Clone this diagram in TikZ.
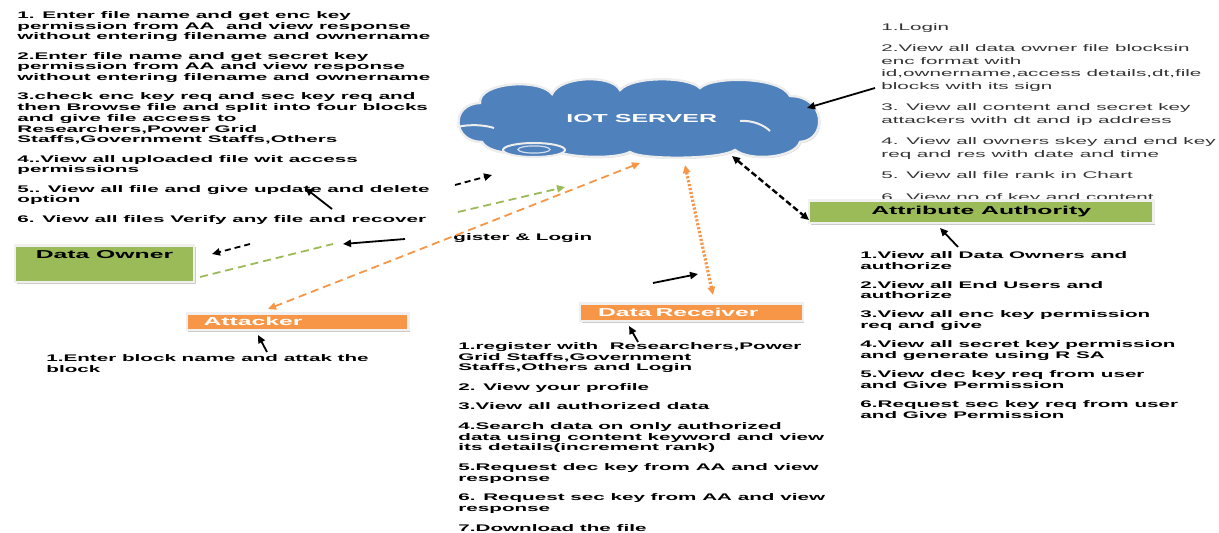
\documentclass[tikz,border=0pt]{standalone}
\usepackage{fontspec}
\newfontfamily\widefont[FakeStretch=2.15]{Liberation Sans}
\usetikzlibrary{arrows.meta,shadows}
\definecolor{ownergreen}{HTML}{9BBB59}
\definecolor{attackorange}{HTML}{F79646}
\definecolor{cloudblue}{HTML}{4F81BD}

\begin{document}
\begin{tikzpicture}[
  x=0.5pt, y=-0.5pt,
  >={Triangle[length=4pt,width=3.6pt]},
  list/.style = {anchor=north west, inner sep=0, align=left, font=\widefont\bfseries\fontsize{4.8}{5.35}\selectfont},
  role/.style = {draw=black!6, line width=1.2pt, inner ysep=0, font=\widefont\bfseries\fontsize{5.75}{6}\selectfont,
                 drop shadow={shadow xshift=0.8pt, shadow yshift=-0.8pt, fill=black!40}},
  ptr/.style = {->, line width=0.9pt}
]
  \useasboundingbox (0,0) rectangle (1219,533);

  % server cloud
  \path[fill=cloudblue, draw=black!7, line width=1.2pt, drop shadow={shadow xshift=0.6pt, shadow yshift=-0.6pt, fill=black!35}]
    (482,142) .. controls (452,142) and (450,104) .. (480,103)
    .. controls (478,82) and (540,78) .. (552,94)
    .. controls (560,76) and (612,74) .. (620,90)
    .. controls (632,76) and (688,76) .. (700,88)
    .. controls (712,76) and (780,76) .. (790,96)
    .. controls (826,96) and (828,140) .. (800,142)
    .. controls (795,158) and (750,162) .. (735,150)
    .. controls (720,160) and (640,160) .. (630,152)
    .. controls (615,160) and (560,158) .. (550,148)
    .. controls (530,156) and (490,156) .. (482,142) -- cycle;
  \draw[black!7, line width=1pt] (457,127) .. controls (470,124) and (485,125) .. (494,128);
  \draw[black!7, line width=1pt] (740,121) .. controls (752,120) and (764,125) .. (770,131);
  \draw[fill=cloudblue, draw=black!7, line width=1pt] (534,150) ellipse [x radius=15.5pt, y radius=3.5pt];
  \draw[white!75!cloudblue, line width=0.6pt] (534,149.5) ellipse [x radius=8pt, y radius=1.8pt];
  \node[text=white, font=\widefont\bfseries\fontsize{5.8}{6}\selectfont] (server) at (641.7,119) {IOT SERVER};

  % lists
  \node[list] (ownerlist) at (17,11) {1. Enter file name and get enc key\\
    permission from AA \ and view response\\
    without entering filename and ownername\\[4.35pt]
    2.Enter file name and get secret key\\
    permission from AA and view response\\
    without entering filename and ownername\\[4.35pt]
    3.check enc key req and sec key req and\\
    then Browse file and split into four blocks\\
    and give file access to\\
    Researchers,Power Grid\\
    Staffs,Government Staffs,Others\\[4.35pt]
    4..View all uploaded file wit access\\
    permissions\\[4.35pt]
    5.. View all file and give update and delete\\
    option\\[4.35pt]
    6. View all files Verify any file and recover};

  \node[list, font=\widefont\fontsize{4.8}{6.25}\selectfont, text=black!80] (serverlist) at (881,22.7) {1.Login\\[4.5pt]
    2.View all data owner file blocksin\\
    enc format with\\
    id,ownername,access details,dt,file\\
    blocks with its sign\\[4.5pt]
    3. View all content and secret key\\
    attackers with dt and ip address\\[4.5pt]
    4. View all owners skey and end key\\
    req and res with date and time\\[4.5pt]
    5. View all file rank in Chart\\[4.5pt]
    6. View no.of key and content};

  \node[list] (reglabel) at (453,232.7) {gister \& Login};

  \node[list] (attacklist) at (46,354.3) {1.Enter block name and attak the\\
    block};

  \node[list] (receiverlist) at (458,342) {1.register with \ Researchers,Power\\
    Grid Staffs,Government\\
    Staffs,Others and Login\\[4.45pt]
    2. View your profile\\[4.45pt]
    3.View all authorized data\\[4.45pt]
    4.Search data on only authorized\\
    data using content keyword and view\\
    its details(increment rank)\\[4.45pt]
    5.Request dec key from AA and view\\
    response\\[4.45pt]
    6. Request sec key from AA and view\\
    response\\[4.45pt]
    7.Download the file};

  \node[list] (aalist) at (860,251) {1.View all Data Owners and\\
    authorize\\[4.2pt]
    2.View all End Users and\\
    authorize\\[4.2pt]
    3.View all enc key permission\\
    req and give\\[4.2pt]
    4.View all secret key permission\\
    and generate using R SA\\[4.2pt]
    5.View dec key req from user\\
    and Give Permission\\[4.2pt]
    6.Request sec key req from user\\
    and Give Permission};

  % roles
  \node[role, fill=ownergreen, minimum width=89.5pt, minimum height=18.3pt, text height=4.2pt, text depth=9.8pt] (owner) at (104.5,264) {Data Owner};
  \node[role, fill=attackorange, text=white, minimum height=8.35pt, text width=94pt, inner xsep=8.4pt, align=left] (attacker) at (297.5,321.7) {Attacker};
  \node[role, fill=attackorange, text=white, minimum height=8.85pt, text width=93.3pt, inner xsep=9pt, align=left] (receiver) at (691.4,312.2) {Data Receiver};
  \node[role, fill=ownergreen, minimum width=172.2pt, minimum height=11.3pt] (authority) at (981.2,212) {Attribute Authority};

  % connector ends
  \coordinate (upd1) at (332,209);  \coordinate (upd2) at (305,188);
  \coordinate (up1) at (455,185);   \coordinate (up2) at (492,175);
  \coordinate (grn0) at (200,277);  \coordinate (grn1) at (333,244);
  \coordinate (grn2) at (458,212);  \coordinate (grn3) at (565,187);
  \coordinate (own1) at (250,244);  \coordinate (own2) at (212,254);
  \coordinate (reg1) at (405,239);  \coordinate (reg2) at (343,244);
  \coordinate (att1) at (640,163);  \coordinate (att2) at (268,309);
  \coordinate (rcv1) at (685,165);  \coordinate (rcv2) at (713,295);
  \coordinate (rcvp1) at (653,283); \coordinate (rcvp2) at (698,274);
  \coordinate (aa1) at (732,156);   \coordinate (aa2) at (809,220);
  \coordinate (srv1) at (875,88);   \coordinate (srv2) at (807,108);
  \coordinate (aap1) at (958,247);  \coordinate (aap2) at (940,228);
  \coordinate (attp1) at (267,352); \coordinate (attp2) at (258,335);
  \coordinate (rcvq1) at (638,342); \coordinate (rcvq2) at (629,326);

  % connectors
  \draw[ptr] (upd1) -- (upd2);
  \draw[ptr, dash pattern=on 3pt off 2pt] (up1) -- (up2);
  \draw[ownergreen, line width=0.9pt, dash pattern=on 4pt off 2.5pt] (grn0) -- (grn1);
  \draw[ptr, ownergreen, dash pattern=on 4pt off 2.5pt] (grn2) -- (grn3);
  \draw[ptr, dash pattern=on 3pt off 2pt] (own1) -- (own2);
  \draw[ptr] (reg1) -- (reg2);
  \draw[<->, attackorange, line width=0.9pt, dash pattern=on 4pt off 2.5pt] (att1) -- (att2);
  \draw[<->, attackorange, line width=1.6pt, dash pattern=on 1.1pt off 0.9pt] (rcv1) -- (rcv2);
  \draw[ptr] (rcvp1) -- (rcvp2);
  \draw[<->, line width=1.2pt, dash pattern=on 3pt off 1.5pt] (aa1) -- (aa2);
  \draw[ptr] (srv1) -- (srv2);
  \draw[ptr] (aap1) -- (aap2);
  \draw[ptr] (attp1) -- (attp2);
  \draw[ptr] (rcvq1) -- (rcvq2);
\end{tikzpicture}
\end{document}
